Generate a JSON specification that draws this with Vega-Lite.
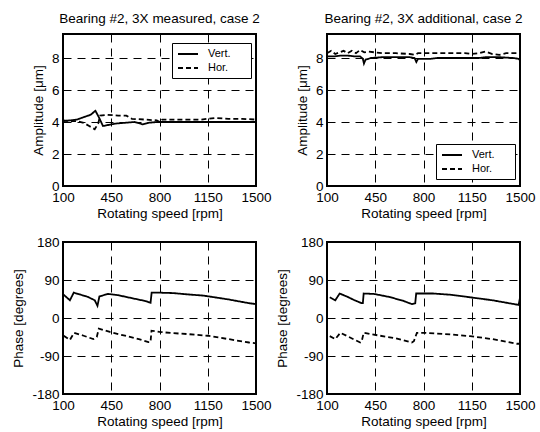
{
  "$schema": "https://vega.github.io/schema/vega-lite/v6.json",
  "autosize": {"type": "pad"},
  "padding": {"left": 10, "top": 10, "right": 5, "bottom": 5},
  "background": "white",
  "bounds": "flush",
  "columns": 2,
  "spacing": {"row": 56, "column": 71},
  "config": {
    "font": "Liberation Sans",
    "view": {"stroke": "black", "strokeWidth": 2},
    "axis": {
      "grid": true, "gridColor": "black", "gridDash": [8, 6], "gridWidth": 1, "gridOpacity": 1,
      "domain": false, "ticks": false,
      "labelFontSize": 13.5, "labelColor": "black", "labelPadding": 4, "labelFlush": false, "labelOverlap": false,
      "labelExpr": "'' + datum.value",
      "titleFontSize": 13.5, "titleFontWeight": "normal", "titleColor": "black"
    },
    "axisX": {"titlePadding": 3},
    "axisY": {"titlePadding": 6},
    "title": {"fontSize": 13.5, "fontWeight": "normal", "color": "black", "offset": 9},
    "legend": {
      "title": null, "orient": "none", "fillColor": "white", "strokeColor": "black", "padding": 5,
      "symbolType": "M-1,0H3", "symbolSize": 100, "symbolStrokeWidth": 1.8, "symbolStrokeColor": "black",
      "labelFontSize": 11, "labelColor": "black", "labelOffset": 19, "rowPadding": 3
    }
  },
  "resolve": {"scale": {"strokeDash": "independent"}, "legend": {"strokeDash": "independent"}},
  "datasets": {
    "amp_meas": [
      {"rpm":100,"s":"Vert.","v":4.05},{"rpm":150,"s":"Vert.","v":4.1},{"rpm":200,"s":"Vert.","v":4.15},{"rpm":250,"s":"Vert.","v":4.3},{"rpm":300,"s":"Vert.","v":4.45},{"rpm":335,"s":"Vert.","v":4.7},{"rpm":360,"s":"Vert.","v":4.3},{"rpm":390,"s":"Vert.","v":3.75},{"rpm":420,"s":"Vert.","v":3.8},{"rpm":480,"s":"Vert.","v":3.9},{"rpm":550,"s":"Vert.","v":3.95},{"rpm":620,"s":"Vert.","v":4.0},{"rpm":680,"s":"Vert.","v":3.85},{"rpm":720,"s":"Vert.","v":3.95},{"rpm":780,"s":"Vert.","v":4.0},{"rpm":850,"s":"Vert.","v":4.0},{"rpm":1000,"s":"Vert.","v":4.0},{"rpm":1150,"s":"Vert.","v":4.0},{"rpm":1300,"s":"Vert.","v":4.0},{"rpm":1500,"s":"Vert.","v":4.0},
      {"rpm":100,"s":"Hor.","v":4.1},{"rpm":150,"s":"Hor.","v":4.05},{"rpm":200,"s":"Hor.","v":4.05},{"rpm":250,"s":"Hor.","v":3.95},{"rpm":290,"s":"Hor.","v":3.75},{"rpm":330,"s":"Hor.","v":3.55},{"rpm":355,"s":"Hor.","v":3.9},{"rpm":370,"s":"Hor.","v":4.4},{"rpm":420,"s":"Hor.","v":4.45},{"rpm":500,"s":"Hor.","v":4.4},{"rpm":560,"s":"Hor.","v":4.4},{"rpm":600,"s":"Hor.","v":4.2},{"rpm":700,"s":"Hor.","v":4.15},{"rpm":780,"s":"Hor.","v":4.1},{"rpm":800,"s":"Hor.","v":4.0},{"rpm":820,"s":"Hor.","v":4.15},{"rpm":900,"s":"Hor.","v":4.15},{"rpm":1000,"s":"Hor.","v":4.15},{"rpm":1100,"s":"Hor.","v":4.15},{"rpm":1150,"s":"Hor.","v":4.2},{"rpm":1200,"s":"Hor.","v":4.25},{"rpm":1300,"s":"Hor.","v":4.2},{"rpm":1400,"s":"Hor.","v":4.2},{"rpm":1500,"s":"Hor.","v":4.15}
    ],
    "amp_add": [
      {"rpm":100,"s":"Vert.","v":8.1},{"rpm":150,"s":"Vert.","v":8.1},{"rpm":200,"s":"Vert.","v":8.15},{"rpm":250,"s":"Vert.","v":8.15},{"rpm":300,"s":"Vert.","v":8.1},{"rpm":340,"s":"Vert.","v":8.1},{"rpm":360,"s":"Vert.","v":7.95},{"rpm":368,"s":"Vert.","v":7.65},{"rpm":380,"s":"Vert.","v":7.9},{"rpm":420,"s":"Vert.","v":8.0},{"rpm":500,"s":"Vert.","v":8.05},{"rpm":600,"s":"Vert.","v":8.05},{"rpm":700,"s":"Vert.","v":8.05},{"rpm":735,"s":"Vert.","v":8.0},{"rpm":748,"s":"Vert.","v":7.75},{"rpm":760,"s":"Vert.","v":7.95},{"rpm":800,"s":"Vert.","v":7.95},{"rpm":850,"s":"Vert.","v":7.95},{"rpm":900,"s":"Vert.","v":8.0},{"rpm":1000,"s":"Vert.","v":8.0},{"rpm":1100,"s":"Vert.","v":8.0},{"rpm":1200,"s":"Vert.","v":8.0},{"rpm":1250,"s":"Vert.","v":8.05},{"rpm":1350,"s":"Vert.","v":8.05},{"rpm":1450,"s":"Vert.","v":8.0},{"rpm":1490,"s":"Vert.","v":7.95},{"rpm":1500,"s":"Vert.","v":7.85},
      {"rpm":100,"s":"Hor.","v":8.3},{"rpm":130,"s":"Hor.","v":8.45},{"rpm":160,"s":"Hor.","v":8.25},{"rpm":190,"s":"Hor.","v":8.35},{"rpm":220,"s":"Hor.","v":8.45},{"rpm":250,"s":"Hor.","v":8.3},{"rpm":280,"s":"Hor.","v":8.45},{"rpm":310,"s":"Hor.","v":8.3},{"rpm":340,"s":"Hor.","v":8.5},{"rpm":370,"s":"Hor.","v":8.35},{"rpm":400,"s":"Hor.","v":8.4},{"rpm":450,"s":"Hor.","v":8.35},{"rpm":500,"s":"Hor.","v":8.3},{"rpm":600,"s":"Hor.","v":8.3},{"rpm":700,"s":"Hor.","v":8.25},{"rpm":740,"s":"Hor.","v":8.2},{"rpm":760,"s":"Hor.","v":8.3},{"rpm":800,"s":"Hor.","v":8.3},{"rpm":900,"s":"Hor.","v":8.3},{"rpm":1000,"s":"Hor.","v":8.3},{"rpm":1100,"s":"Hor.","v":8.3},{"rpm":1150,"s":"Hor.","v":8.25},{"rpm":1200,"s":"Hor.","v":8.3},{"rpm":1250,"s":"Hor.","v":8.4},{"rpm":1300,"s":"Hor.","v":8.25},{"rpm":1350,"s":"Hor.","v":8.2},{"rpm":1400,"s":"Hor.","v":8.3},{"rpm":1500,"s":"Hor.","v":8.3}
    ],
    "ph_meas": [
      {"rpm":105,"s":"Vert.","v":55},{"rpm":150,"s":"Vert.","v":42},{"rpm":178,"s":"Vert.","v":60},{"rpm":220,"s":"Vert.","v":56},{"rpm":280,"s":"Vert.","v":50},{"rpm":330,"s":"Vert.","v":42},{"rpm":350,"s":"Vert.","v":29},{"rpm":364,"s":"Vert.","v":51},{"rpm":425,"s":"Vert.","v":57},{"rpm":500,"s":"Vert.","v":54},{"rpm":600,"s":"Vert.","v":47},{"rpm":700,"s":"Vert.","v":40},{"rpm":735,"s":"Vert.","v":36},{"rpm":743,"s":"Vert.","v":60},{"rpm":800,"s":"Vert.","v":60},{"rpm":900,"s":"Vert.","v":59},{"rpm":1000,"s":"Vert.","v":56},{"rpm":1120,"s":"Vert.","v":53},{"rpm":1300,"s":"Vert.","v":44},{"rpm":1450,"s":"Vert.","v":35},{"rpm":1500,"s":"Vert.","v":33},
      {"rpm":105,"s":"Hor.","v":-42},{"rpm":150,"s":"Hor.","v":-52},{"rpm":180,"s":"Hor.","v":-35},{"rpm":250,"s":"Hor.","v":-42},{"rpm":320,"s":"Hor.","v":-50},{"rpm":345,"s":"Hor.","v":-45},{"rpm":360,"s":"Hor.","v":-25},{"rpm":440,"s":"Hor.","v":-33},{"rpm":550,"s":"Hor.","v":-42},{"rpm":650,"s":"Hor.","v":-50},{"rpm":720,"s":"Hor.","v":-57},{"rpm":735,"s":"Hor.","v":-57},{"rpm":742,"s":"Hor.","v":-30},{"rpm":800,"s":"Hor.","v":-33},{"rpm":900,"s":"Hor.","v":-36},{"rpm":1000,"s":"Hor.","v":-38},{"rpm":1150,"s":"Hor.","v":-42},{"rpm":1300,"s":"Hor.","v":-50},{"rpm":1450,"s":"Hor.","v":-58},{"rpm":1500,"s":"Hor.","v":-60}
    ],
    "ph_add": [
      {"rpm":120,"s":"Vert.","v":49},{"rpm":160,"s":"Vert.","v":42},{"rpm":192,"s":"Vert.","v":58},{"rpm":250,"s":"Vert.","v":50},{"rpm":300,"s":"Vert.","v":42},{"rpm":352,"s":"Vert.","v":35},{"rpm":360,"s":"Vert.","v":35},{"rpm":366,"s":"Vert.","v":58},{"rpm":440,"s":"Vert.","v":57},{"rpm":550,"s":"Vert.","v":50},{"rpm":650,"s":"Vert.","v":41},{"rpm":715,"s":"Vert.","v":33},{"rpm":740,"s":"Vert.","v":35},{"rpm":747,"s":"Vert.","v":58},{"rpm":870,"s":"Vert.","v":58},{"rpm":1000,"s":"Vert.","v":55},{"rpm":1140,"s":"Vert.","v":49},{"rpm":1300,"s":"Vert.","v":42},{"rpm":1490,"s":"Vert.","v":31},{"rpm":1500,"s":"Vert.","v":48},
      {"rpm":120,"s":"Hor.","v":-43},{"rpm":160,"s":"Hor.","v":-50},{"rpm":197,"s":"Hor.","v":-35},{"rpm":260,"s":"Hor.","v":-45},{"rpm":341,"s":"Hor.","v":-58},{"rpm":352,"s":"Hor.","v":-55},{"rpm":366,"s":"Hor.","v":-35},{"rpm":414,"s":"Hor.","v":-38},{"rpm":486,"s":"Hor.","v":-42},{"rpm":600,"s":"Hor.","v":-48},{"rpm":715,"s":"Hor.","v":-58},{"rpm":730,"s":"Hor.","v":-55},{"rpm":752,"s":"Hor.","v":-35},{"rpm":800,"s":"Hor.","v":-35},{"rpm":900,"s":"Hor.","v":-37},{"rpm":1000,"s":"Hor.","v":-39},{"rpm":1138,"s":"Hor.","v":-43},{"rpm":1300,"s":"Hor.","v":-50},{"rpm":1476,"s":"Hor.","v":-61},{"rpm":1500,"s":"Hor.","v":-61}
    ]
  },
  "concat": [
    {
      "title": "Bearing #2, 3X measured, case 2",
      "width": 193, "height": 152,
      "data": {"name": "amp_meas"},
      "mark": {"type": "line", "color": "black", "strokeWidth": 1.8},
      "encoding": {
        "x": {"field": "rpm", "type": "quantitative", "scale": {"domain": [100, 1500], "nice": false, "zero": false}, "axis": {"values": [100, 450, 800, 1150, 1500], "title": "Rotating speed [rpm]"}},
        "y": {"field": "v", "type": "quantitative", "scale": {"domain": [0, 9.5], "nice": false}, "axis": {"values": [0, 2, 4, 6, 8], "title": "Amplitude [μm]"}},
        "strokeDash": {"field": "s", "type": "nominal", "scale": {"domain": ["Vert.", "Hor."], "range": [[1, 0], [5, 3]]}, "legend": {"legendX": 109, "legendY": 9, "labelExpr": "datum.label + '\u00a0\u00a0\u00a0\u00a0\u00a0\u200b'"}}
      }
    },
    {
      "title": "Bearing #2, 3X additional, case 2",
      "width": 193, "height": 152,
      "data": {"name": "amp_add"},
      "mark": {"type": "line", "color": "black", "strokeWidth": 1.8},
      "encoding": {
        "x": {"field": "rpm", "type": "quantitative", "scale": {"domain": [100, 1500], "nice": false, "zero": false}, "axis": {"values": [100, 450, 800, 1150, 1500], "title": "Rotating speed [rpm]"}},
        "y": {"field": "v", "type": "quantitative", "scale": {"domain": [0, 9.5], "nice": false}, "axis": {"values": [0, 2, 4, 6, 8], "title": "Amplitude [μm]"}},
        "strokeDash": {"field": "s", "type": "nominal", "scale": {"domain": ["Vert.", "Hor."], "range": [[1, 0], [5, 3]]}, "legend": {"legendX": 109, "legendY": 110, "labelExpr": "datum.label + '\u00a0\u00a0\u00a0\u00a0\u00a0\u200b'"}}
      }
    },
    {
      "width": 193, "height": 152,
      "data": {"name": "ph_meas"},
      "mark": {"type": "line", "color": "black", "strokeWidth": 1.8},
      "encoding": {
        "x": {"field": "rpm", "type": "quantitative", "scale": {"domain": [100, 1500], "nice": false, "zero": false}, "axis": {"values": [100, 450, 800, 1150, 1500], "title": "Rotating speed [rpm]"}},
        "y": {"field": "v", "type": "quantitative", "scale": {"domain": [-180, 180], "nice": false}, "axis": {"values": [-180, -90, 0, 90, 180], "title": "Phase [degrees]"}},
        "strokeDash": {"field": "s", "type": "nominal", "scale": {"domain": ["Vert.", "Hor."], "range": [[1, 0], [5, 3]]}, "legend": null}
      }
    },
    {
      "width": 193, "height": 152,
      "data": {"name": "ph_add"},
      "mark": {"type": "line", "color": "black", "strokeWidth": 1.8},
      "encoding": {
        "x": {"field": "rpm", "type": "quantitative", "scale": {"domain": [100, 1500], "nice": false, "zero": false}, "axis": {"values": [100, 450, 800, 1150, 1500], "title": "Rotating speed [rpm]"}},
        "y": {"field": "v", "type": "quantitative", "scale": {"domain": [-180, 180], "nice": false}, "axis": {"values": [-180, -90, 0, 90, 180], "title": "Phase [degrees]"}},
        "strokeDash": {"field": "s", "type": "nominal", "scale": {"domain": ["Vert.", "Hor."], "range": [[1, 0], [5, 3]]}, "legend": null}
      }
    }
  ]
}
